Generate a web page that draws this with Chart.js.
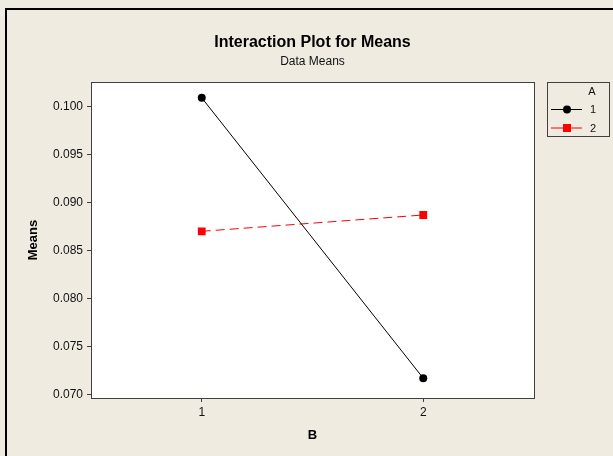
<!DOCTYPE html>
<html>
<head>
<meta charset="utf-8">
<script src="https://cdn.jsdelivr.net/npm/chart.js@4.4.1/dist/chart.umd.min.js"></script>
<style>
    html, body { margin: 0; padding: 0; background: #efebe1; }
    #wrap { width: 613px; height: 456px; }
</style>
</head>
<body>
<div id="wrap"><canvas id="chart" width="613" height="456"></canvas></div>
<script>
// Chart data
const categoriesB = ['1', '2'];
const meansA1 = [0.1009, 0.0717];
const meansA2 = [0.0870, 0.0887];
const yTicks = [0.070, 0.075, 0.080, 0.085, 0.090, 0.095, 0.100];
const legendTitle = 'A';
const seriesLabels = ['1', '2'];

const FONT = '"Liberation Sans", Arial, sans-serif';
const BG = '#efebe1';

// Background, outer frame, white plot area and the legend box
const framePlugin = {
    id: 'frame',
    beforeDraw(chart) {
        const { ctx, chartArea: a } = chart;
        ctx.save();
        ctx.fillStyle = BG;
        ctx.fillRect(0, 0, chart.width, chart.height);
        ctx.strokeStyle = '#000';
        ctx.lineWidth = 2;
        ctx.strokeRect(6, 9, chart.width + 20, chart.height + 20);
        ctx.fillStyle = '#fff';
        ctx.fillRect(a.left, a.top, a.right - a.left, a.bottom - a.top);
        ctx.restore();
    },
    afterDraw(chart) {
        const { ctx, chartArea: a } = chart;
        ctx.save();
        ctx.strokeStyle = '#404040';
        ctx.lineWidth = 1;
        ctx.strokeRect(Math.round(a.left) + 0.5, Math.round(a.top) + 0.5,
            Math.round(a.right - a.left), Math.round(a.bottom - a.top));

        // legend
        const lx = 547, ly = 82, lw = 62, lh = 54;
        ctx.strokeRect(lx + 0.5, ly + 0.5, lw, lh);
        ctx.fillStyle = '#111';
        ctx.font = '11px ' + FONT;
        ctx.textAlign = 'center';
        ctx.textBaseline = 'middle';
        ctx.fillText(legendTitle, 592, 92);
        chart.data.datasets.forEach((ds, i) => {
            const y = 109 + i * 18.5;
            ctx.strokeStyle = ds.borderColor;
            ctx.lineWidth = 1;
            ctx.beginPath();
            ctx.moveTo(551, y + 0.5);
            ctx.lineTo(582, y + 0.5);
            ctx.stroke();
            ctx.fillStyle = ds.pointBackgroundColor;
            if (ds.pointStyle === 'rect') {
                ctx.fillRect(563, y - 3.5, 8, 8);
            } else {
                ctx.beginPath();
                ctx.arc(567, y + 0.5, 4, 0, Math.PI * 2);
                ctx.fill();
            }
            ctx.fillStyle = '#111';
            ctx.fillText(ds.label, 593, y + 1);
        });
        ctx.restore();
    }
};

new Chart(document.getElementById('chart'), {
    type: 'line',
    data: {
        labels: categoriesB,
        datasets: [{
            label: seriesLabels[0],
            data: meansA1,
            borderColor: '#000000',
            borderWidth: 1,
            pointStyle: 'circle',
            pointRadius: 4,
            pointBackgroundColor: '#000000',
            pointBorderColor: '#000000',
            pointBorderWidth: 0
        }, {
            label: seriesLabels[1],
            data: meansA2,
            borderColor: '#ff0000',
            borderWidth: 1,
            borderDash: [9, 5],
            pointStyle: 'rect',
            pointRadius: 5.5,
            pointBackgroundColor: '#ff0000',
            pointBorderColor: '#ff0000',
            pointBorderWidth: 0
        }]
    },
    options: {
        responsive: false,
        animation: false,
        layout: { padding: { left: 0, right: 79, top: 0, bottom: 0 } },
        plugins: {
            legend: { display: false },
            tooltip: { enabled: false },
            title: {
                display: true,
                text: 'Interaction Plot for Means',
                fullSize: false,
                color: '#000',
                font: { family: FONT, size: 16, weight: 'bold' },
                padding: { top: 33, bottom: 2 }
            },
            subtitle: {
                display: true,
                text: 'Data Means',
                fullSize: false,
                color: '#111',
                font: { family: FONT, size: 12 },
                padding: { top: 0, bottom: 13.4 }
            }
        },
        scales: {
            x: {
                type: 'category',
                offset: true,
                grid: { display: true, drawOnChartArea: false, drawTicks: true, tickLength: 4, color: '#404040' },
                border: { display: false },
                ticks: { color: '#111', font: { family: FONT, size: 12 }, padding: 3 },
                title: {
                    display: true,
                    text: 'B',
                    color: '#000',
                    font: { family: FONT, size: 13, weight: 'bold' },
                    padding: { top: 0, bottom: 13 }
                },
                afterFit(scale) { scale.height = 58; }
            },
            y: {
                min: 0.06964,
                max: 0.10255,
                grid: { display: true, drawOnChartArea: false, drawTicks: true, tickLength: 4, color: '#404040' },
                border: { display: false },
                afterBuildTicks(scale) {
                    scale.ticks = yTicks.map(v => ({ value: v }));
                },
                ticks: {
                    color: '#111',
                    font: { family: FONT, size: 12 },
                    padding: 4,
                    callback: function(value) { return Number(value).toFixed(3); }
                },
                title: {
                    display: true,
                    text: 'Means',
                    color: '#000',
                    font: { family: FONT, size: 13, weight: 'bold' },
                    padding: { top: 26, bottom: 0 }
                },
                afterFit(scale) { scale.width = 91; }
            }
        }
    },
    plugins: [framePlugin]
});
</script>
</body>
</html>
